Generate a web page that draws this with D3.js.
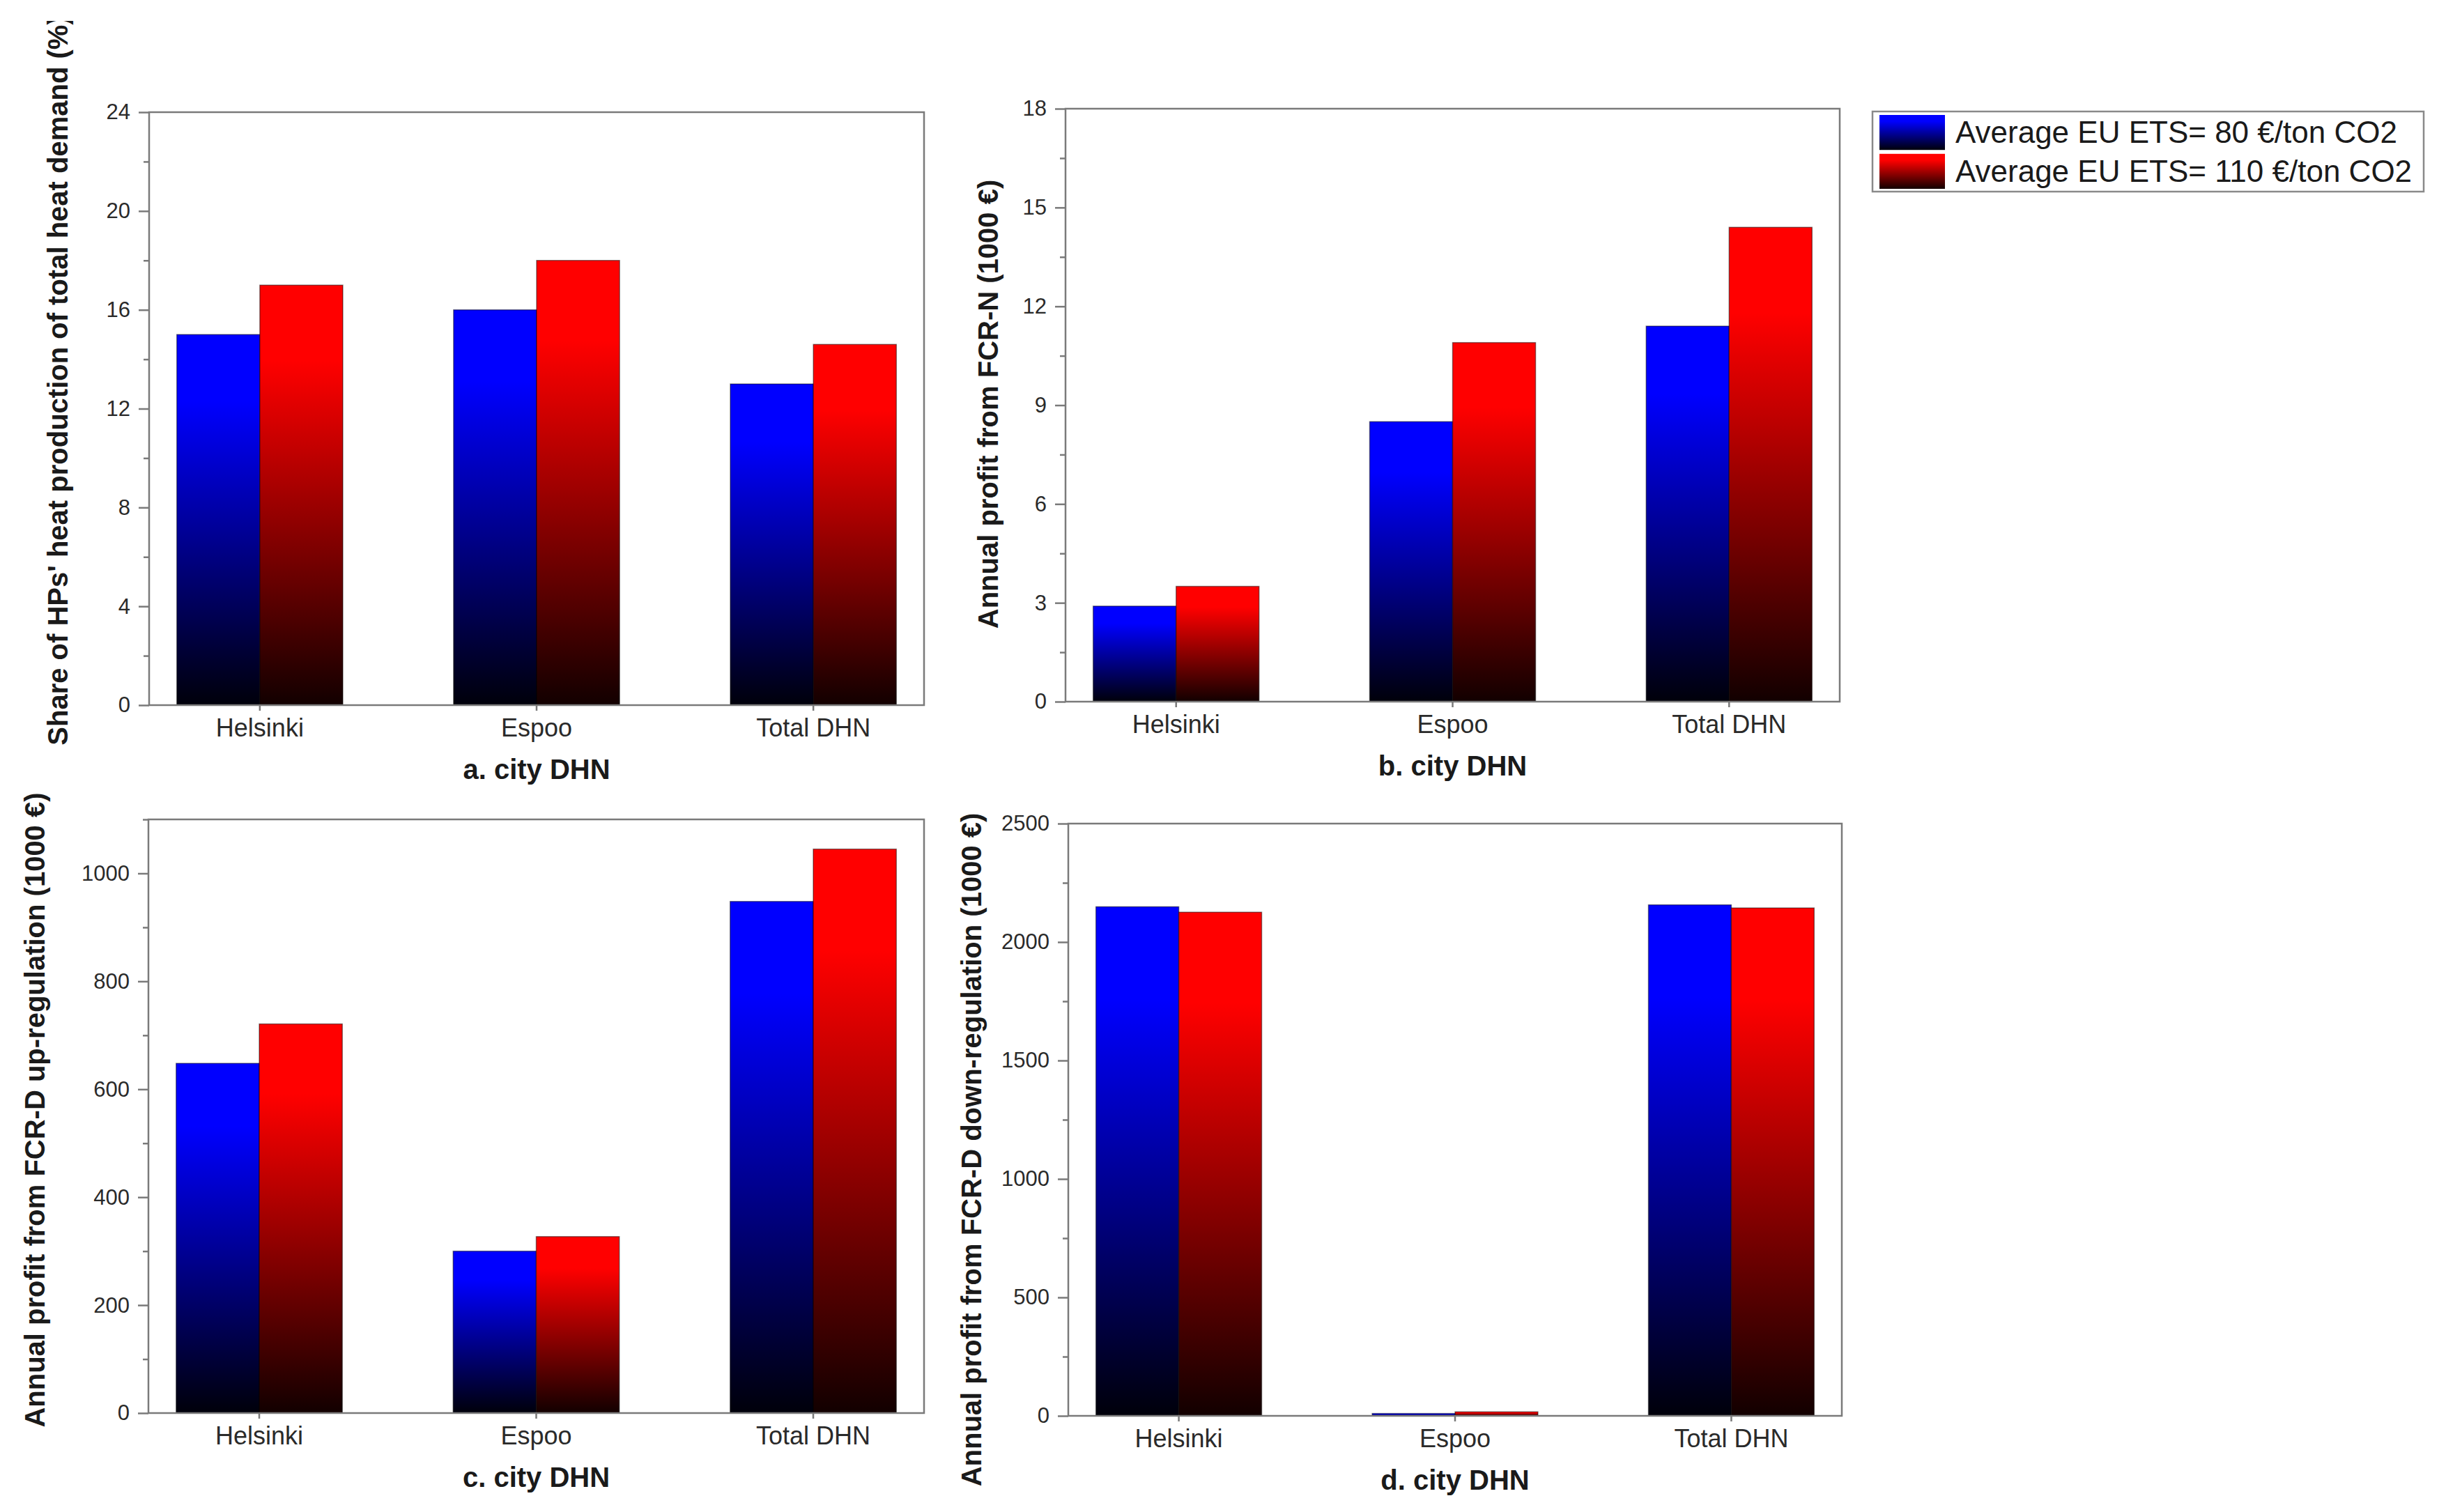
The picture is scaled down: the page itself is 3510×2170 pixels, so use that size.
<!DOCTYPE html>
<html>
<head>
<meta charset="utf-8">
<script src="https://cdn.jsdelivr.net/npm/d3@7"></script>
<style>
  body { margin: 0; background: #fff; }
  svg { display: block; font-family: "Liberation Sans", Arial, sans-serif; }
</style>
</head>
<body>
<svg id="chart"></svg>
<script>
// categories and series
const cities = ["Helsinki", "Espoo", "Total DHN"];
const seriesNames = ["Average EU ETS= 80 €/ton CO2", "Average EU ETS= 110 €/ton CO2"];

// a. share of HPs' heat production (%)
const heatShare80 = [15, 16, 13];
const heatShare110 = [17, 18, 14.6];
// b. FCR-N profit (1000 €)
const fcrN80 = [2.9, 8.5, 11.4];
const fcrN110 = [3.5, 10.9, 14.4];
// c. FCR-D up-regulation profit (1000 €)
const fcrUp80 = [648, 300, 948];
const fcrUp110 = [721, 327, 1045];
// d. FCR-D down-regulation profit (1000 €)
const fcrDown80 = [2149, 10, 2157];
const fcrDown110 = [2126, 17, 2144];

// tick labels
const ticksA = [0, 4, 8, 12, 16, 20, 24];
const ticksB = [0, 3, 6, 9, 12, 15, 18];
const ticksC = [0, 200, 400, 600, 800, 1000];
const ticksD = [0, 500, 1000, 1500, 2000, 2500];

const W = 3510, H = 2170;
const svg = d3.select('#chart').attr('width', W).attr('height', H);

//gradients: bright at the top, fading to black at the bottom
const defs = svg.append('defs');
const grads = [
    { id: 'gBlue', top: '#0000ff', bottom: '#00000a' },
    { id: 'gRed', top: '#ff0000', bottom: '#120000' }
];
grads.forEach(g => {
    const lg = defs.append('linearGradient').attr('id', g.id)
        .attr('x1', 0).attr('y1', 0).attr('x2', 0).attr('y2', 1);
    lg.append('stop').attr('offset', '0%').attr('stop-color', g.top);
    lg.append('stop').attr('offset', '18%').attr('stop-color', g.top);
    lg.append('stop').attr('offset', '100%').attr('stop-color', g.bottom);
});
const fills = ['url(#gBlue)', 'url(#gRed)'];

defs.append('clipPath').attr('id', 'clipTop')
    .append('rect').attr('x', 0).attr('y', 30).attr('width', 400).attr('height', 1200);

const panels = [
    { left: 214, right: 1326, top: 161, bottom: 1012, max: 24, ticks: ticksA, minor: 2,
      values: [heatShare80, heatShare110], letter: 'a. city DHN',
      title: "Share of HPs' heat production of total heat demand (%)", titleX: 97, titleY: 546, clip: true },
    { left: 1529, right: 2640, top: 156, bottom: 1007, max: 18, ticks: ticksB, minor: 1.5,
      values: [fcrN80, fcrN110], letter: 'b. city DHN',
      title: 'Annual profit from FCR-N (1000 €)', titleX: 1432, titleY: 580 },
    { left: 213, right: 1326, top: 1176, bottom: 2028, max: 1100, ticks: ticksC, minor: 100,
      values: [fcrUp80, fcrUp110], letter: 'c. city DHN',
      title: 'Annual profit from FCR-D up-regulation (1000 €)', titleX: 64, titleY: 1593 },
    { left: 1533, right: 2643, top: 1182, bottom: 2032, max: 2500, ticks: ticksD, minor: 250,
      values: [fcrDown80, fcrDown110], letter: 'd. city DHN',
      title: 'Annual profit from FCR-D down-regulation (1000 €)', titleX: 1408, titleY: 1650 }
];

function drawPanel(p) {
    const g = svg.append('g');

    const x0 = d3.scaleBand().domain(cities).range([p.left, p.right])
        .paddingInner(0.4).paddingOuter(0.1);
    const x1 = d3.scaleBand().domain([0, 1]).range([0, x0.bandwidth()]);
    const y = d3.scaleLinear().domain([0, p.max]).range([p.bottom, p.top]);

    // bars
    p.values.forEach((vals, si) => {
        g.selectAll('rect.s' + si)
            .data(vals)
            .enter()
            .append('rect')
            .attr('class', 's' + si)
            .attr('x', (d, i) => x0(cities[i]) + x1(si))
            .attr('y', d => y(d))
            .attr('width', x1.bandwidth())
            .attr('height', d => y(0) - y(d))
            .style('fill', fills[si])
            .style('stroke', '#000')
            .style('stroke-opacity', 0.45)
            .style('stroke-width', 1.5);
    });

    // frame
    g.append('rect')
        .attr('x', p.left).attr('y', p.top)
        .attr('width', p.right - p.left).attr('height', p.bottom - p.top)
        .style('fill', 'none').style('stroke', '#7a7a7a').style('stroke-width', 2.5);

    // minor y ticks
    const minorTicks = d3.range(0, p.max + 1e-9, p.minor).filter(v => !p.ticks.includes(v));
    const yMinor = g.append('g').attr('transform', `translate(${p.left},0)`)
        .call(d3.axisLeft(y).tickValues(minorTicks).tickSize(8).tickFormat(''));
    yMinor.select('.domain').remove();

    // major y ticks
    const yAxis = g.append('g').attr('transform', `translate(${p.left},0)`)
        .call(d3.axisLeft(y).tickValues(p.ticks).tickSize(15).tickPadding(12)
            .tickFormat(d3.format('d')));
    yAxis.select('.domain').remove();
    yAxis.selectAll('text').style('font-size', '31px').style('fill', '#2a2a2a');

    g.selectAll('.tick line').style('stroke', '#7a7a7a').style('stroke-width', 2.5);

    // x axis
    const xAxis = g.append('g').attr('transform', `translate(0,${p.bottom})`)
        .call(d3.axisBottom(x0).tickSize(8).tickPadding(11));
    xAxis.select('.domain').remove();
    xAxis.selectAll('line').style('stroke', '#7a7a7a').style('stroke-width', 2.5);
    xAxis.selectAll('text').style('font-size', '36px').style('fill', '#2a2a2a');

    // x title
    g.append('text')
        .attr('x', (p.left + p.right) / 2)
        .attr('y', p.bottom + 106)
        .attr('text-anchor', 'middle')
        .style('font-size', '40px').style('font-weight', 'bold').style('fill', '#1a1a1a')
        .text(p.letter);

    // y title
    const t = g.append('text')
        .attr('transform', `translate(${p.titleX},${p.titleY}) rotate(-90)`)
        .attr('text-anchor', 'middle')
        .style('font-size', '40px').style('font-weight', 'bold').style('fill', '#1a1a1a')
        .text(p.title);
    if (p.clip) {
        g.append('g').attr('clip-path', 'url(#clipTop)').node().appendChild(t.node());
    }
}

panels.forEach(drawPanel);

// legend
const legend = svg.append('g');
legend.append('rect')
    .attr('x', 2687).attr('y', 160).attr('width', 791).attr('height', 115)
    .style('fill', '#fff').style('stroke', '#8a8a8a').style('stroke-width', 2.5);

const legY = d3.scaleBand().domain([0, 1]).range([165, 271]).paddingInner(0.1);
seriesNames.forEach((name, i) => {
    legend.append('rect')
        .attr('x', 2697).attr('y', legY(i))
        .attr('width', 94).attr('height', legY.bandwidth())
        .style('fill', fills[i]);
    legend.append('text')
        .attr('x', 2806).attr('y', legY(i) + legY.bandwidth() / 2 + 15)
        .style('font-size', '44px').style('fill', '#1a1a1a')
        .text(name);
});
</script>
</body>
</html>
